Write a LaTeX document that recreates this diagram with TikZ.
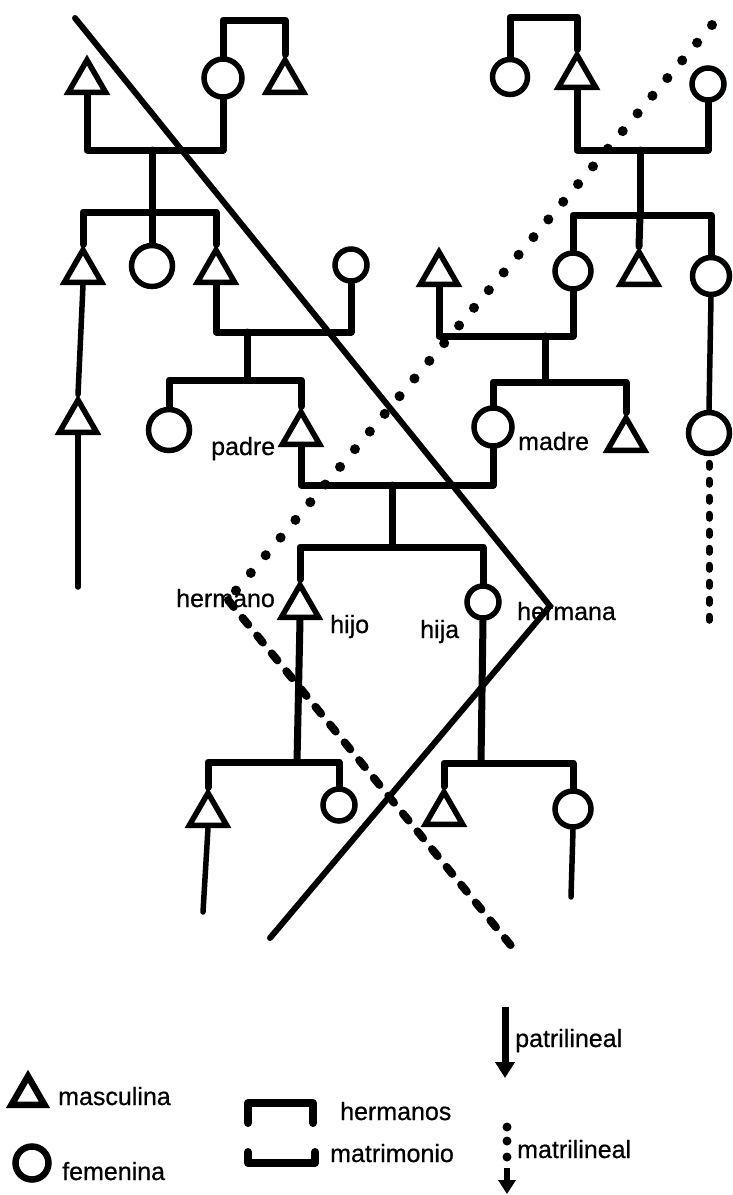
\documentclass[tikz,border=0pt]{standalone}
\usepackage{fontspec}
\setmainfont{Liberation Sans}[FakeBold=0.6]
\usetikzlibrary{shapes.geometric,arrows.meta}
\begin{document}
\begin{tikzpicture}[x=1pt,y=-1pt,
  male/.style={regular polygon, regular polygon sides=3, draw, line width=5.5pt, minimum size=43pt, inner sep=0pt, anchor=south},
  female/.style={circle, draw, line width=5.5pt, inner sep=0pt},
  br/.style={line width=7pt, line cap=round, line join=round},
  ln/.style={line width=5.5pt, line cap=round},
  lbl/.style={anchor=base west, inner sep=0pt, font=\fontsize{25}{29}\selectfont},
  solidline/.style={line width=6pt, line cap=round, line join=miter},
  dotline/.style={line width=10pt, line cap=round, dash pattern=on 0.1pt off 23pt},
  dashline/.style={line width=8pt, line cap=round, dash pattern=on 9pt off 14pt},
  vdotline/.style={line width=7pt, line cap=round, dash pattern=on 4pt off 13pt},
]
\fill[white] (0,0) rectangle (732,1195);
\useasboundingbox (0,0) rectangle (732,1195);

% ---------- persons ----------
% top left
\node[male] (T1) at (87,95) {};
\node[female, minimum size=38pt] (C1) at (223,78) {};
\node[male] (T2) at (285,95) {};
\node[male] (T3) at (83,285) {};
\node[female, minimum size=41pt] (C2) at (152,266) {};
\node[male] (T4) at (216,285) {};
\node[male] (T5) at (78,435) {};
\node[female, minimum size=32pt] (C3) at (351,265) {};
\node[female, minimum size=41pt] (C4) at (169,430) {};
\node[male] (padre) at (301,447) {};
% top right
\node[female, minimum size=35pt] (C9) at (510,77) {};
\node[male] (T10) at (577,90) {};
\node[female, minimum size=32pt] (C10) at (708,84) {};
\node[female, minimum size=36pt] (C6) at (573,271) {};
\node[male] (T9) at (639,287) {};
\node[female, minimum size=37pt] (C7) at (711,276) {};
\node[male] (T8) at (439,287) {};
\node[female, minimum size=38pt] (madre) at (493,427) {};
\node[male] (T7) at (626,453) {};
\node[female, minimum size=41pt] (C8) at (709,433) {};
% bottom
\node[male] (hijo) at (300,620) {};
\node[female, minimum size=32pt] (hija) at (483,602) {};
\node[male] (T12) at (208,828) {};
\node[female, minimum size=32pt] (C12) at (339,805) {};
\node[male] (T13) at (444,827) {};
\node[female, minimum size=36pt] (C13) at (573,809) {};

% ---------- coordinates ----------
\coordinate (hA) at (254,20);
\coordinate (mA) at (152,150);
\coordinate (sA) at (152,212);
\coordinate (mB) at (247,332);
\coordinate (sB) at (247,380);
\coordinate (mC) at (392,485);
\coordinate (sC) at (392,547);
\coordinate (hD) at (545,17);
\coordinate (mD) at (640,150);
\coordinate (sD) at (640,215);
\coordinate (mE) at (545,336);
\coordinate (sE) at (545,382);
\coordinate (sF) at (297,762);
\coordinate (sG) at (481,763);
\coordinate (endA) at (78,587);
\coordinate (endB) at (709,622);
\coordinate (endC) at (203,912);
\coordinate (endD) at (571,897);

% ---------- connectors ----------
\draw[br] (C1.north) |- (hA) -| (T2.north);
\draw[br] (T1.south) |- (mA) -| (C1.south);
\draw[br] (mA) -- (sA);
\draw[br] (T3.north) |- (sA) -| (T4.north);
\draw[br] (sA) -- (C2.north);
\draw[ln] (T3.south) -- (T5.north);
\draw[ln] (T5.south) -- (endA);
\draw[br] (T4.south) |- (mB) -| (C3.south);
\draw[br] (mB) -- (sB);
\draw[br] (C4.north) |- (sB) -| (padre.north);
\draw[br] (padre.south) |- (mC) -| (madre.south);
\draw[br] (mC) -- (sC);
\draw[br] (hijo.north) |- (sC) -| (hija.north);

\draw[br] (C9.north) |- (hD) -| (T10.north);
\draw[br] (T10.south) |- (mD) -| (C10.south);
\draw[br] (mD) -- (sD);
\draw[br] (C6.north) |- (sD) -| (C7.north);
\draw[br] (sD) -- (T9.north);
\draw[br] (T8.south) |- (mE) -| (C6.south);
\draw[br] (mE) -- (sE);
\draw[br] (madre.north) |- (sE) -| (T7.north);
\draw[ln] (C7.south) -- (C8.north);
\draw[vdotline] (C8.south) ++(0,7) -- (endB);

\draw[br] (hijo.south) -- (sF);
\draw[br] (T12.north) |- (sF) -| (C12.north);
\draw[ln] (T12.south) -- (endC);
\draw[br] (hija.south) -- (sG);
\draw[br] (T13.north) |- (sG) -| (C13.north);
\draw[ln] (C13.south) -- (endD);

% ---------- diagonals ----------
\coordinate (d1) at (75,18);
\coordinate (d2) at (550,606);
\coordinate (d3) at (270,938);
\draw[solidline] (d1) -- (d2) -- (d3);
\coordinate (e1) at (712,25);
\coordinate (e2) at (228,600);
\coordinate (e3) at (513,948);
\draw[dotline] (e1) -- (e2);
\draw[dashline] (e2) -- (e3);

% ---------- labels ----------
\node[lbl] (lpadre) at (211,455) {padre};
\node[lbl] (lmadre) at (518,450) {madre};
\node[lbl] (lhermano) at (176,607) {hermano};
\node[lbl] (lhermana) at (517,620) {hermana};
\node[lbl] (lhijo) at (330,633) {hijo};
\node[lbl] (lhija) at (420,638) {hija};

% ---------- legend ----------
\node[male, line width=6.5pt, minimum size=38pt] (LT) at (28,1108) {};
\node[female, line width=6.5pt, minimum size=33pt] (LC) at (32,1163) {};
\node[lbl] (lmasc) at (58,1105) {masculina};
\node[lbl] (lfem) at (62,1180) {femenina};
\coordinate (lh1) at (248,1123);
\coordinate (lhm) at (280,1103);
\coordinate (lh2) at (313,1123);
\draw[line width=8pt, line cap=round, line join=round] (lh1) |- (lhm) -| (lh2);
\coordinate (lm1) at (248,1152);
\coordinate (lmm) at (281,1163);
\coordinate (lm2) at (315,1152);
\draw[line width=8pt, line cap=round, line join=round] (lm1) |- (lmm) -| (lm2);
\node[lbl] (lherm) at (340,1120) {hermanos};
\node[lbl] (lmatr) at (330,1162) {matrimonio};
\coordinate (pa1) at (505,1007);
\coordinate (pa2) at (505,1078);
\draw[line width=7pt, -{Triangle[width=19pt,length=16pt]}] (pa1) -- (pa2);
\node[lbl] (lpat) at (515,1047) {patrilineal};
\fill (507,1127) circle (4.5pt);
\fill (507,1141) circle (4.5pt);
\fill (507,1157) circle (4.5pt);
\coordinate (ma1) at (507,1168);
\coordinate (ma2) at (507,1194);
\draw[line width=6pt, -{Triangle[width=17pt,length=14pt]}] (ma1) -- (ma2);
\node[lbl] (lmat) at (517,1158) {matrilineal};
\end{tikzpicture}
\end{document}
